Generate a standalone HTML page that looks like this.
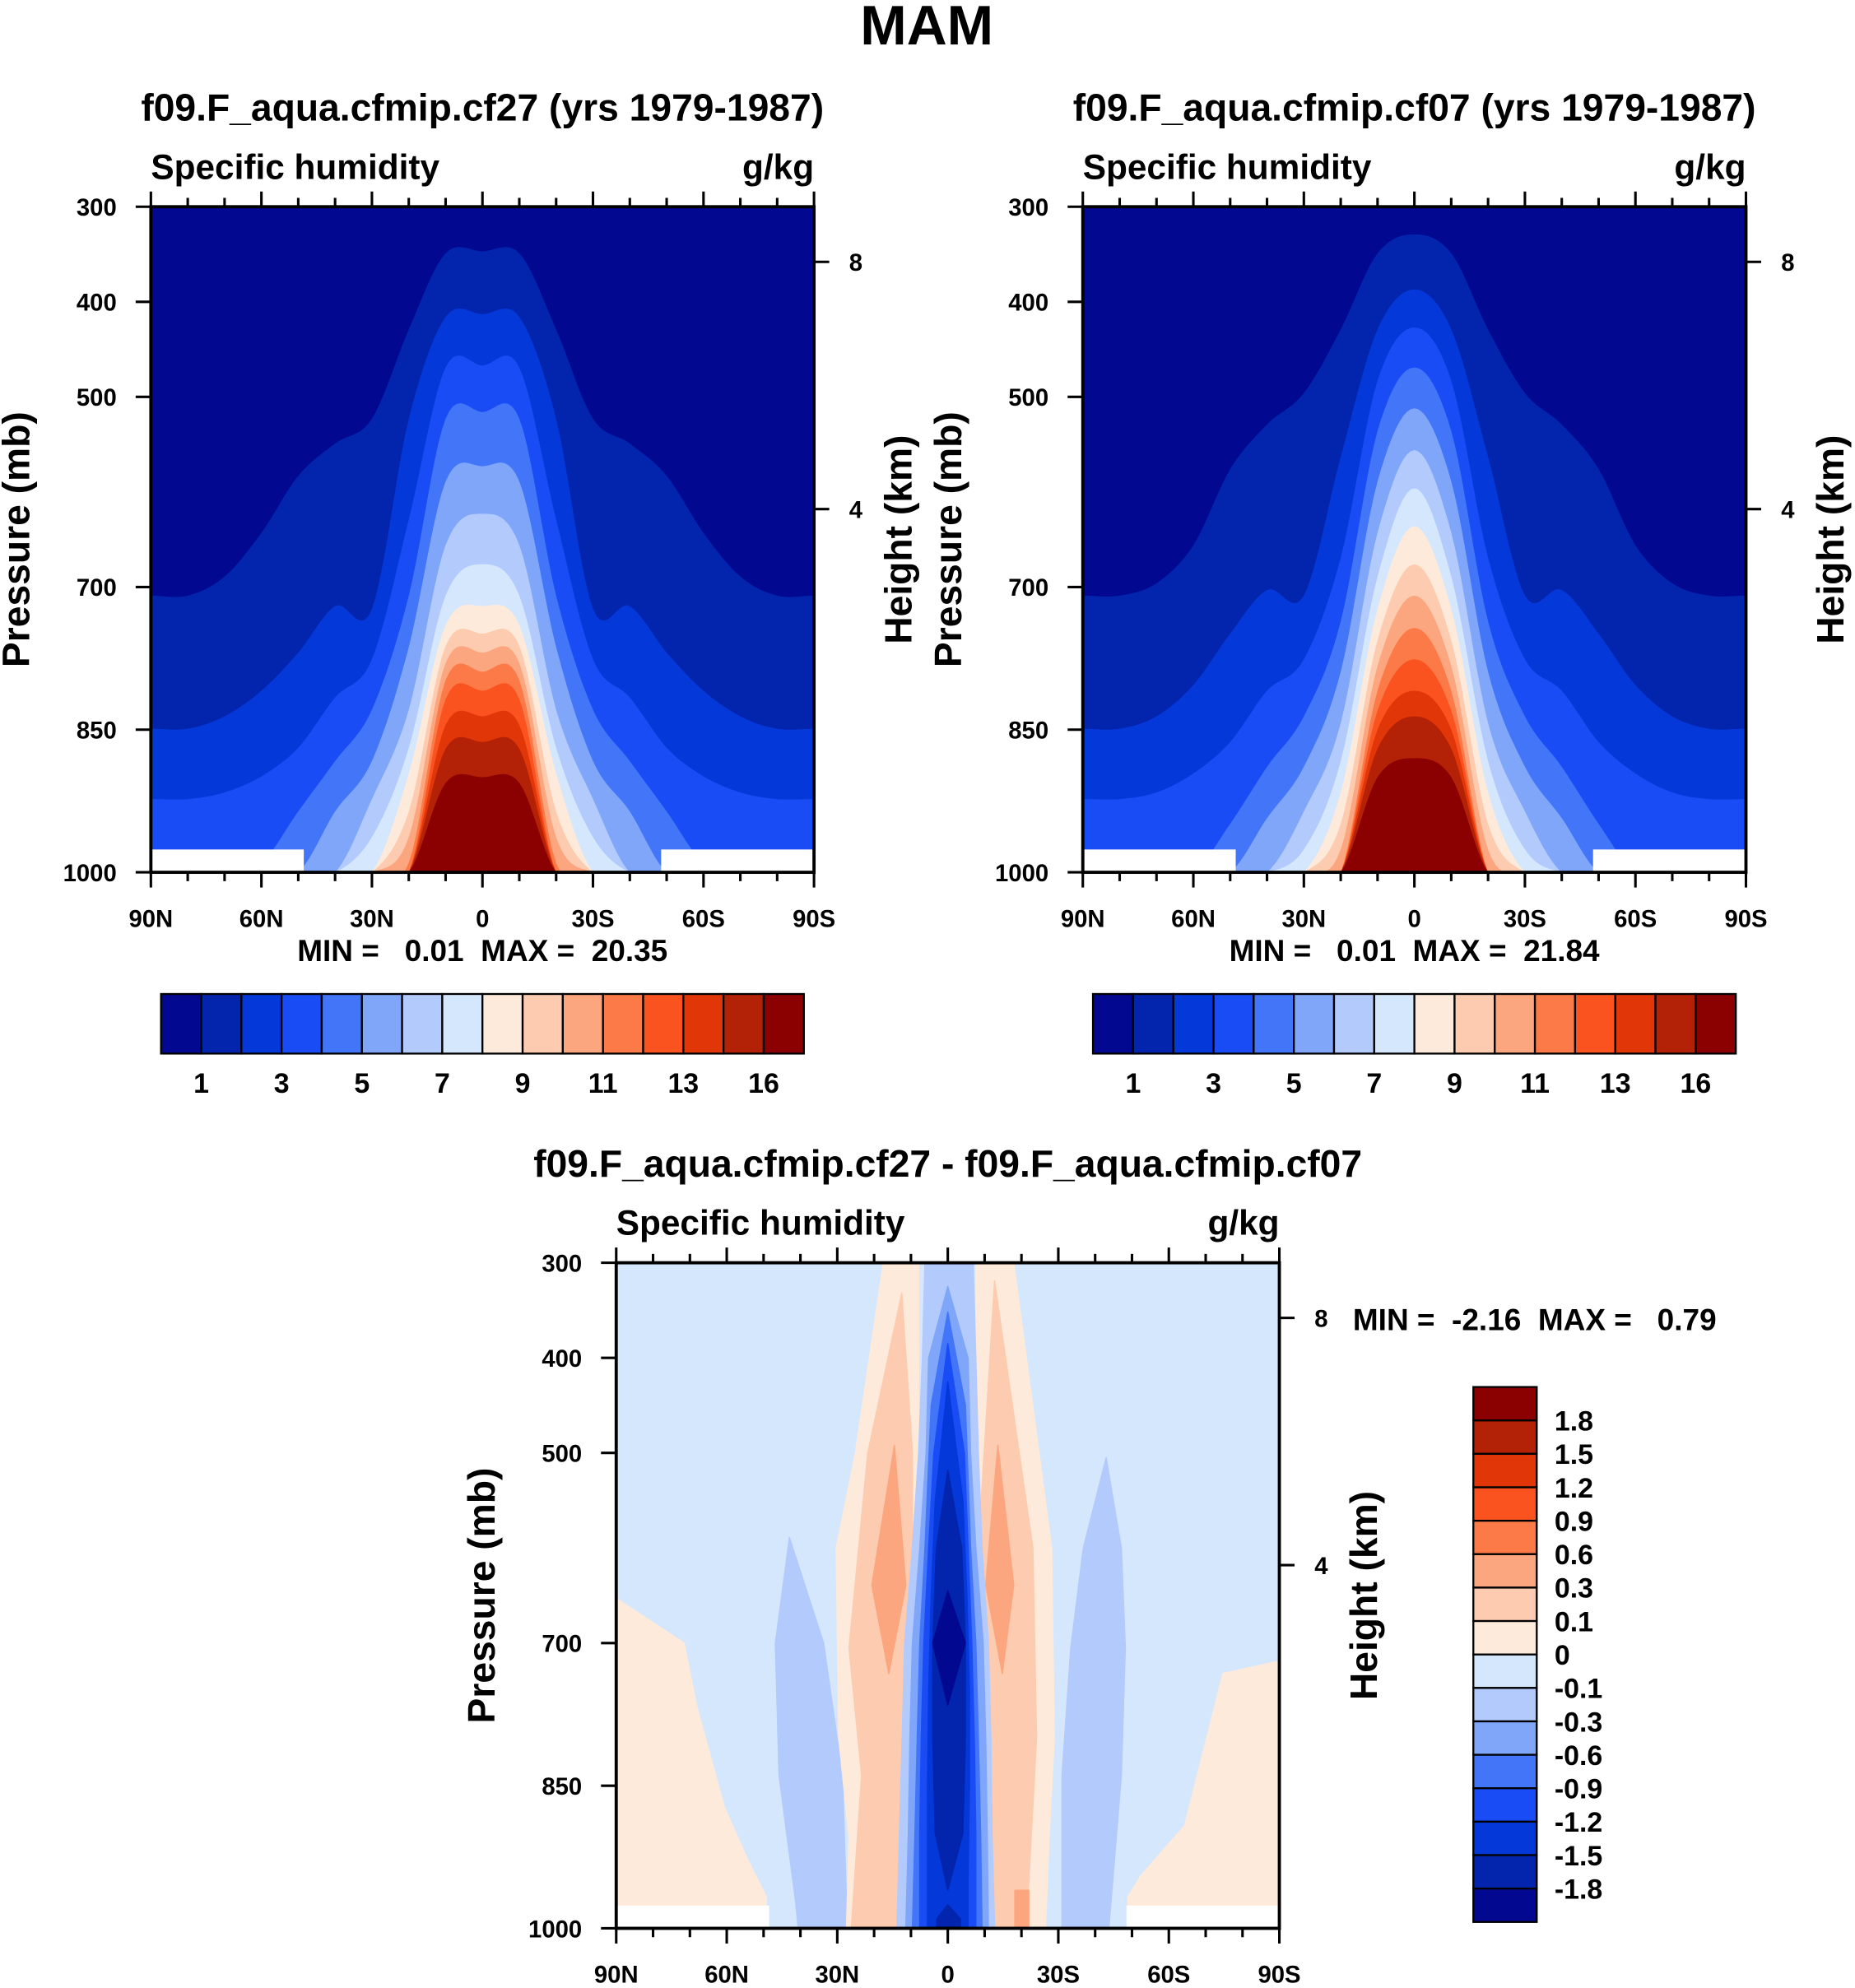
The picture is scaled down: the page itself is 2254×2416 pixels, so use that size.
<!DOCTYPE html>
<html><head><meta charset="utf-8"><style>
html,body{margin:0;padding:0;background:#fff;}
svg{display:block;font-family:"Liberation Sans",Arial,sans-serif;font-weight:bold;}
text{white-space:pre;}
</style></head><body>
<svg id="root" width="2254" height="2416" viewBox="0 0 1463 1568" xmlns="http://www.w3.org/2000/svg">
<text x="731" y="35" font-size="44" text-anchor="middle">MAM</text>
<g id="gA"></g>
<g id="gB"></g>
<g id="gC"></g>
</svg>
<script>
const NS="http://www.w3.org/2000/svg";
const colors=['#02088f','#0325ad','#0538d9','#1a4cf5','#4275f8','#80a6fa','#b3cafc','#d5e7fd','#feeada','#fdcbaf','#fca67f','#fb7a47','#fa531f','#e13608','#b32206','#8b0000'];
const lats=[90,80,70,60,50,40,30,20,10,0,-10,-20,-30,-40,-50,-60,-70,-80,-90];
const presTicks=[300,400,500,700,850,1000];
const heightTicks=[8,4];
const heightTickP=[358,618];
const latTicks=[90,60,30,0,-30,-60,-90];
const latLabels=['90N','60N','30N','0','30S','60S','90S'];
const levelLabelsTop=['1','3','5','7','9','11','13','16'];
const levelLabelsDiff=['1.8','1.5','1.2','0.9','0.6','0.3','0.1','0','-0.1','-0.3','-0.6','-0.9','-1.2','-1.5','-1.8'];
function sym(h){return h.concat(h.slice(0,9).reverse());}
const A1=sym([709,709,689,643,583,549,523,429,349,347]);
const A2=sym([849,849,836,809,769,720,723,523,416,413]);
const A3=sym([923,923,916,899,869,816,776,629,469,467]);
const A4=sym([1000,1000,1000,990,936,883,829,709,523,516]);
const A5=sym([1000,1000,1000,1000,1000,936,883,763,589,573]);
const A6=sym([1000,1000,1000,1000,1000,1000,923,829,656,623]);
const A7=sym([1000,1000,1000,1000,1000,1000,963,869,709,676]);
const A8=sym([1000,1000,1000,1000,1000,1000,1000,896,740,720]);
const A9=sym([1000,1000,1000,1000,1000,1000,1000,936,762,749]);
const A10=sym([1000,1000,1000,1000,1000,1000,1000,963,780,769]);
const A11=sym([1000,1000,1000,1000,1000,1000,1000,990,798,789]);
const A12=sym([1000,1000,1000,1000,1000,1000,1000,1000,818,809]);
const A13=sym([1000,1000,1000,1000,1000,1000,1000,1000,845,836]);
const A14=sym([1000,1000,1000,1000,1000,1000,1000,1000,870,863]);
const A15=sym([1000,1000,1000,1000,1000,1000,1000,1000,906,900]);
const B1=sym([709,709,696,656,576,529,496,429,349,329]);
const B2=sym([849,849,836,803,749,703,709,563,429,387]);
const B3=sym([923,923,916,896,863,809,776,669,483,427]);
const B4=sym([1000,1000,1000,1000,949,889,836,736,536,469]);
const B5=sym([1000,1000,1000,1000,1000,943,889,789,589,512]);
const B6=sym([1000,1000,1000,1000,1000,1000,936,843,643,556]);
const B7=sym([1000,1000,1000,1000,1000,1000,976,883,689,596]);
const B8=sym([1000,1000,1000,1000,1000,1000,1000,916,723,636]);
const B9=sym([1000,1000,1000,1000,1000,1000,1000,949,756,676]);
const B10=sym([1000,1000,1000,1000,1000,1000,1000,976,783,709]);
const B11=sym([1000,1000,1000,1000,1000,1000,1000,1000,809,743]);
const B12=sym([1000,1000,1000,1000,1000,1000,1000,1000,830,776]);
const B13=sym([1000,1000,1000,1000,1000,1000,1000,1000,850,809]);
const B14=sym([1000,1000,1000,1000,1000,1000,1000,1000,870,836]);
const B15=sym([1000,1000,1000,1000,1000,1000,1000,1000,900,880]);
const diffFeatures=[
 {c:8,p:[653,700,767,873,927,967,1000],n:[90,90,90,90,90,90,90],s:[90,71.6,68.1,60.6,54.4,49.2,49.2]},
 {c:8,p:[719,732,812,892,945,967,1000],n:[-89.8,-74.7,-69.5,-64.3,-52.3,-48.9,-48.9],s:[-90,-90,-90,-90,-90,-90,-90]},
 {c:6,p:[589,700,839,972,1000],n:[43,46.8,45.8,41.3,40.6],s:[43,33.7,28.6,27.5,27.5]},
 {c:6,p:[505,600,705,839,1000],n:[-43,-36.8,-33.4,-31,-31],s:[-43,-47.1,-48.2,-47.1,-43.7]},
 {c:8,p:[300,500,600,799,905,1000],n:[17.5,25.1,30.3,29.6,26.8,27.5],s:[7.9,7.9,7.9,7.9,8.9,9.6]},
 {c:9,p:[332,500,705,839,1000],n:[12.5,21.7,26.8,23.4,26.2],s:[12.5,9.6,9.6,12.4,12.4]},
 {c:10,p:[492,639,732],n:[14.5,20.6,16],s:[14.5,11.4,16]},
 {c:8,p:[300,600,799,905,1000],n:[-7.6,-7.6,-7.6,-8.3,-9.3],s:[-17.9,-28.2,-28.9,-27.5,-26.5]},
 {c:9,p:[319,600,799,1000],n:[-12.7,-8.3,-9.3,-11],s:[-12.7,-23.1,-24.1,-21.3]},
 {c:10,p:[492,639,732],n:[-13.6,-10.3,-14.8],s:[-13.6,-17.9,-14.8]},
 {c:10,p:[960,1000],n:[-18.2,-18.2],s:[-22,-22]},
 {c:6,p:[300,400,500,600,700,800,900,1000],n:[6.2,6.9,7.9,9.6,11.7,12.4,13.1,13.8],s:[-6.9,-7.6,-8.3,-9.3,-11,-11.7,-12,-12.7]},
 {c:5,p:[325,400,500,600,700,800,900,1000],n:[0,5.2,5.9,7.6,9.6,10.3,10.7,11.4],s:[0,-5.5,-6.2,-7.6,-9.6,-10.3,-10.7,-11]},
 {c:4,p:[352,450,600,700,800,900,1000],n:[0,4.5,6.2,7.6,8.3,8.9,9.6],s:[0,-4.8,-6.2,-7.6,-8.3,-8.9,-9.3]},
 {c:3,p:[385,500,600,700,800,900,1000],n:[0,3.8,5.2,6.5,7.2,7.6,7.6],s:[0,-4.5,-5.5,-6.5,-7.2,-7.6,-7.6]},
 {c:2,p:[425,550,650,750,850,950,1000],n:[0,3.4,4.5,5.2,5.5,5.5,5.5],s:[0,-4.1,-5.2,-5.9,-5.9,-5.5,-5.5]},
 {c:1,p:[518,600,700,800,900,960],n:[0,3.1,4.1,4.1,3.4,0],s:[0,-3.8,-4.8,-4.8,-4.1,0]},
 {c:1,p:[975,990,1000],n:[0,3,3],s:[0,-3.4,-3.4]},
 {c:0,p:[645,700,765],n:[0,4.1,0],s:[0,-4.8,0]}
];

function el(parent,tag,attrs,text){const e=document.createElementNS(NS,tag);for(const k in attrs)e.setAttribute(k,attrs[k]);if(text!==undefined)e.textContent=text;parent.appendChild(e);return e;}
function interp(arr,lat){
  const t=(90-lat)/10;let i=Math.floor(t);if(i>=18)i=17;const f=t-i;
  const p0=arr[Math.max(i-1,0)],p1=arr[i],p2=arr[i+1],p3=arr[Math.min(i+2,18)];
  const v=0.5*((2*p1)+(-p0+p2)*f+(2*p0-5*p1+4*p2-p3)*f*f+(-p0+3*p1-3*p2+p3)*f*f*f);
  return Math.min(1000,Math.max(300,v));
}
function panel(g,x0,y0,levels,title,minmax,isDiff){
  const W=523,H=525;
  const xOf=lat=>x0+(90-lat)/180*W;
  const yOf=p=>y0+(p-300)*0.75;
  const cid='clip'+x0+'_'+y0;
  const defs=el(g,'defs',{});const cp=el(defs,'clipPath',{id:cid});el(cp,'rect',{x:x0,y:y0,width:W,height:H});
  const fg=el(g,'g',{'clip-path':'url(#'+cid+')'});
  if(!isDiff){
    const bg=el(fg,'rect',{x:x0,y:y0,width:W,height:H,fill:colors[0]});
    
    
    levels.forEach((arr,k)=>{
      let d='M'+xOf(90)+','+yOf(1000);
      for(let lat=90;lat>=-90;lat-=1){d+=' L'+xOf(lat).toFixed(1)+','+yOf(interp(arr,lat)).toFixed(1);}
      d+=' L'+xOf(-90)+','+yOf(1000)+'Z';
      const pa=el(fg,'path',{d:d,fill:colors[k+1]});
      
      
    });
  } else {
    const bg=el(fg,'rect',{x:x0,y:y0,width:W,height:H,fill:colors[7]});
    
    
    levels.forEach((f,k)=>{
      let pts=[];
      for(let i=0;i<f.p.length;i++)pts.push(xOf(f.n[i]).toFixed(1)+','+yOf(f.p[i]).toFixed(1));
      for(let i=f.p.length-1;i>=0;i--)pts.push(xOf(f.s[i]).toFixed(1)+','+yOf(f.p[i]).toFixed(1));
      const pg=el(fg,'polygon',{points:pts.join(' '),fill:colors[f.c],'stroke':colors[f.c],'stroke-width':1,'stroke-linejoin':'round'});
      
      
    });
  }
  const wy=yOf(976);
  const w1=el(fg,'rect',{x:x0,y:wy,width:xOf(48.5)-x0,height:y0+H-wy,fill:'#fff'});
  
  
  const w2=el(fg,'rect',{x:xOf(-48.5),y:wy,width:x0+W-xOf(-48.5),height:y0+H-wy,fill:'#fff'});
  
  
  const fr=el(g,'rect',{x:x0,y:y0,width:W,height:H,fill:'none',stroke:'#000','stroke-width':2.5});
  
  
  for(let lat=90;lat>=-90;lat-=10){
    const major=lat%30===0;const L=major?12:7;const x=xOf(lat);
    el(g,'line',{x1:x,y1:y0,x2:x,y2:y0-L,stroke:'#000','stroke-width':2});
    el(g,'line',{x1:x,y1:y0+H,x2:x,y2:y0+H+L,stroke:'#000','stroke-width':2});
  }
  latTicks.forEach((lat,i)=>{
    const t=el(g,'text',{x:xOf(lat),y:y0+H+43,'font-size':19,'text-anchor':'middle'},latLabels[i]);
    
    
  });
  presTicks.forEach(p=>{
    const y=yOf(p);
    el(g,'line',{x1:x0,y1:y,x2:x0-12,y2:y,stroke:'#000','stroke-width':2});
    const t=el(g,'text',{x:x0-27,y:y+7,'font-size':19,'text-anchor':'end'},String(p));
    
    
  });
  heightTicks.forEach((h,i)=>{
    const y=yOf(heightTickP[i]);
    el(g,'line',{x1:x0+W,y1:y,x2:x0+W+12,y2:y,stroke:'#000','stroke-width':2});
    const t=el(g,'text',{x:x0+W+33,y:y+7,'font-size':19,'text-anchor':'middle'},String(h));
    
    
  });
  const yt=el(g,'text',{x:0,y:0,'font-size':30,'text-anchor':'middle',transform:'translate('+(x0-96)+','+(y0+H/2)+') rotate(-90)'},'Pressure (mb)');
  
  
  const ht=el(g,'text',{x:0,y:0,'font-size':30,'text-anchor':'middle',transform:'translate('+(x0+W+77)+','+(y0+H/2)+') rotate(-90)'},'Height (km)');
  
  
  const tt=el(g,'text',{x:x0+W/2,y:y0-68,'font-size':30,'text-anchor':'middle'},title);
  
  
  const sh=el(g,'text',{x:x0,y:y0-22,'font-size':27.5},'Specific humidity');
  
  
  const un=el(g,'text',{x:x0+W,y:y0-22,'font-size':27.5,'text-anchor':'end'},'g/kg');
  
  
  if(minmax){
    const mm=el(g,'text',{x:x0+W/2,y:y0+H+70,'font-size':24,'text-anchor':'middle'},minmax);
    
    
  }
}
function hbar(g,x0,y0){
  const bw=507/16;
  for(let i=0;i<16;i++){
    const r=el(g,'rect',{x:x0+i*bw,y:y0,width:bw,height:47,fill:colors[i],stroke:'#000','stroke-width':1.5});
    
    
  }
  levelLabelsTop.forEach((l,i)=>{
    const t=el(g,'text',{x:x0+(1+2*i)*bw,y:y0+78,'font-size':22,'text-anchor':'middle'},l);
    
    
  });
}
const gA=document.getElementById('gA'),gB=document.getElementById('gB'),gC=document.getElementById('gC');
panel(gA,119,163,[A1,A2,A3,A4,A5,A6,A7,A8,A9,A10,A11,A12,A13,A14,A15],'f09.F_aqua.cfmip.cf27 (yrs 1979-1987)','MIN =   0.01  MAX =  20.35',false);
panel(gB,854,163,[B1,B2,B3,B4,B5,B6,B7,B8,B9,B10,B11,B12,B13,B14,B15],'f09.F_aqua.cfmip.cf07 (yrs 1979-1987)','MIN =   0.01  MAX =  21.84',false);
hbar(gA,127,784);
hbar(gB,862,784);
panel(gC,486,996,diffFeatures,'f09.F_aqua.cfmip.cf27 - f09.F_aqua.cfmip.cf07',null,true);
const mm=el(gC,'text',{x:1067,y:1049,'font-size':24},'MIN =  -2.16  MAX =   0.79');


const bh=422/16;
for(let i=0;i<16;i++){
  const r=el(gC,'rect',{x:1162,y:1094+i*bh,width:50,height:bh,fill:colors[15-i],stroke:'#000','stroke-width':1.5});
  
  
}
levelLabelsDiff.forEach((l,i)=>{
  const t=el(gC,'text',{x:1226,y:1094+(i+1)*bh+8,'font-size':22},l);
  
  
});
</script>
</body></html>
